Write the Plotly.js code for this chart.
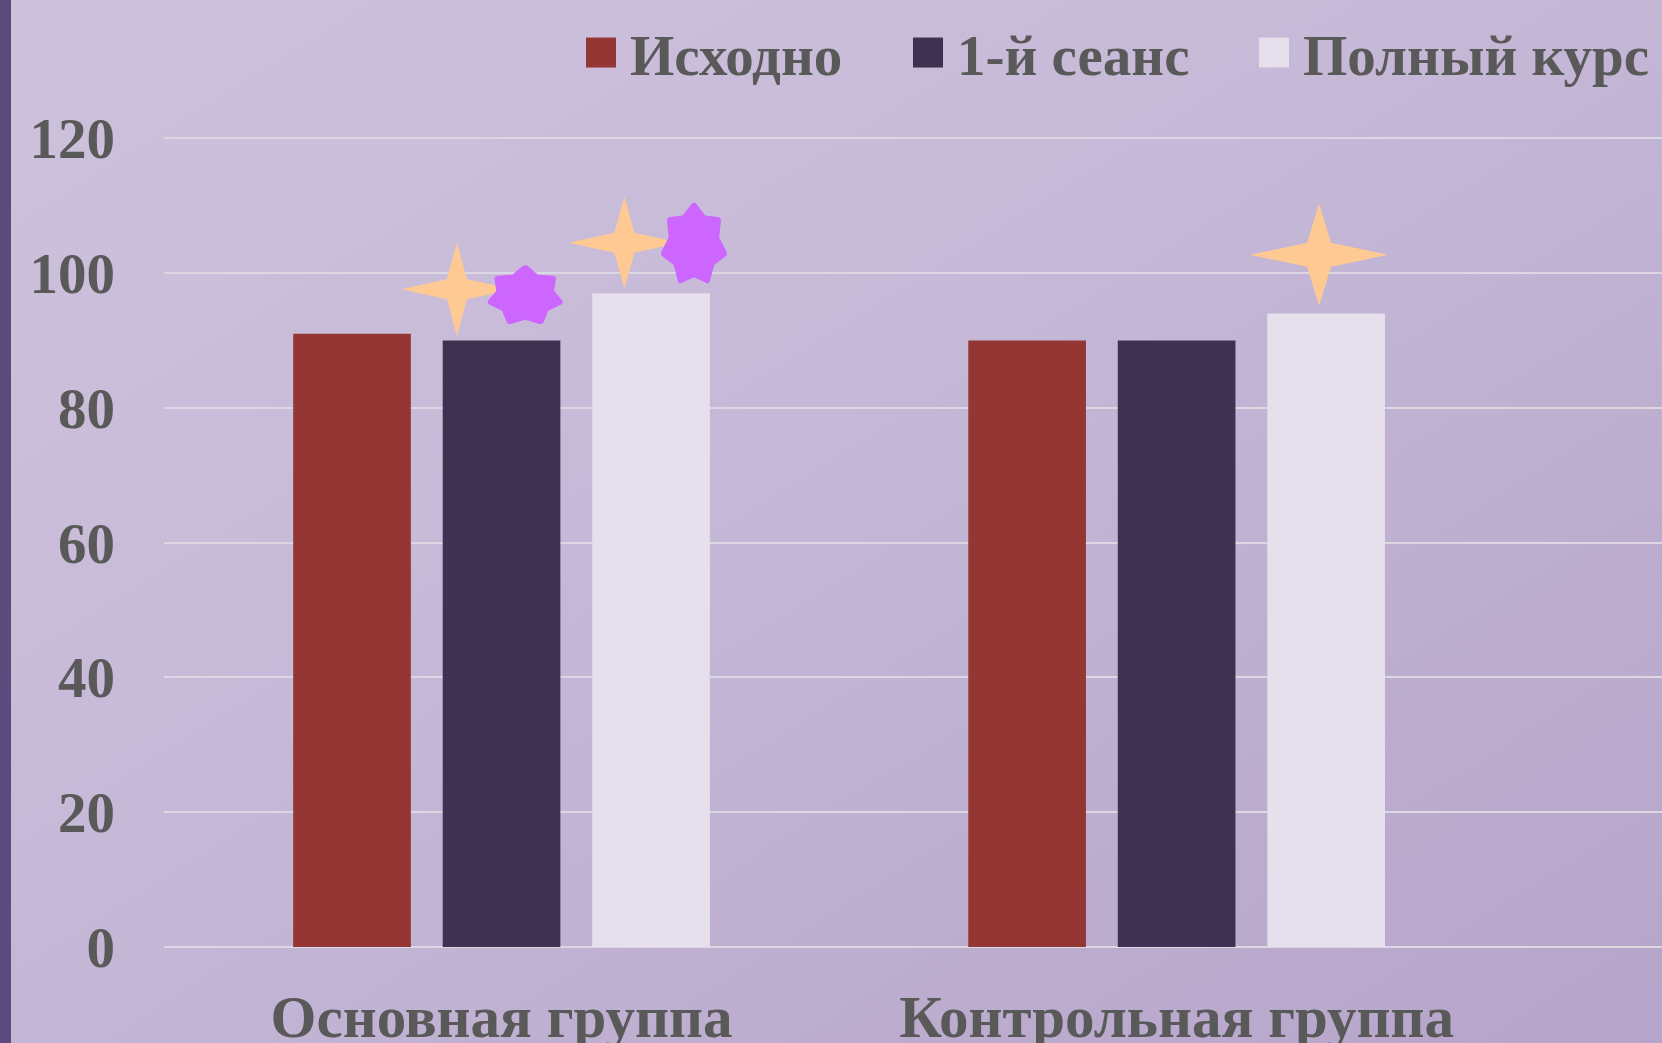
<!DOCTYPE html>
<html><head><meta charset="utf-8">
<script src="https://cdn.plot.ly/plotly-3.0.1.min.js"></script>
<style>
html,body{margin:0;padding:0;}
#wrap{position:relative;width:1662px;height:1043px;overflow:hidden;
  background:linear-gradient(to bottom right,#cdc2dc 0%,#c7bad8 40%,#bcadcf 75%,#b6a5ca 100%);}
#edge{position:absolute;left:0;top:0;width:11px;height:1043px;background:#5c4a7d;z-index:2;}
#chart{position:absolute;left:0;top:0;width:1662px;height:1043px;}
</style></head><body>
<div id="wrap"><div id="chart"></div><div id="edge"></div></div>
<script>
// ---- data ----
const categories = ['Основная группа', 'Контрольная группа'];
const seriesNames = ['Исходно', '1-й сеанс', 'Полный курс'];
const baselineValues = [91, 90];
const session1Values = [90, 90];
const fullCourseValues = [97, 94];
const yTickValues = [0, 20, 40, 60, 80, 100, 120];
// significance markers: position on the category axis and value
const sparkX = [-0.066, 0.182, 1.211];
const sparkY = [97.6, 104.5, 102.7];
const starX = [0.035, 0.285];
const starY = [96.6, 104.2];

// ---- styles ----
const barColors = ['#943634', '#3f3151', '#e5e0ec'];
const sparkColor = '#fec993';
const starColor = '#cc66ff';
const sparkSizes = [[56, 47, 10], [56, 46, 10], [69, 51, 12]]; // half-width, half-height, waist (px)
const starSizes = [[40, 32], [35, 44]]; // radius x, radius y (px)
const textColor = '#595959';
const fontFam = '"Liberation Serif", "Times New Roman", serif';

function sparkPath(a, b, w) {
  return `M${-a},0 L${-w},${w} L0,${b} L${w},${w} L${a},0 L${w},${-w} L0,${-b} L${-w},${-w} Z`;
}
function starPath(rx, ry) {
  const n = 7, inner = 0.74, rnd = 0.22, pts = [];
  for (let i = 0; i < 2 * n; i++) {
    const ang = Math.PI / 2 - i * Math.PI / n;
    const r = i % 2 === 0 ? 1 : inner;
    pts.push([r * Math.cos(ang), r * Math.sin(ang)]);
  }
  const f = p => (p[0] * rx).toFixed(2) + ',' + (p[1] * ry).toFixed(2);
  let d = '';
  for (let i = 0; i < 2 * n; i++) {
    const p = pts[i];
    if (i % 2 === 0) {
      const pr = pts[(i - 1 + 2 * n) % (2 * n)], nx = pts[(i + 1) % (2 * n)];
      const a = [p[0] + (pr[0] - p[0]) * rnd, p[1] + (pr[1] - p[1]) * rnd];
      const b = [p[0] + (nx[0] - p[0]) * rnd, p[1] + (nx[1] - p[1]) * rnd];
      d += (i === 0 ? 'M' : 'L') + f(a) + ' Q' + f(p) + ' ' + f(b) + ' ';
    } else {
      d += 'L' + f(p) + ' ';
    }
  }
  return d + 'Z';
}

const seriesValues = [baselineValues, session1Values, fullCourseValues];
const legendIds = ['legend', 'legend2', 'legend3'];
const traces = seriesNames.map((name, i) => ({
  type: 'bar', name: name, x: categories, y: seriesValues[i],
  marker: {color: barColors[i], line: {width: 0}},
  legend: legendIds[i], hoverinfo: 'skip'
}));

const shapes = [];
sparkX.forEach((x, i) => shapes.push({
  type: 'path', xref: 'x', yref: 'y', xsizemode: 'pixel', ysizemode: 'pixel',
  xanchor: x, yanchor: sparkY[i],
  path: sparkPath(sparkSizes[i][0], sparkSizes[i][1], sparkSizes[i][2]),
  fillcolor: sparkColor, line: {width: 0}, layer: 'above'
}));
starX.forEach((x, i) => shapes.push({
  type: 'path', xref: 'x', yref: 'y', xsizemode: 'pixel', ysizemode: 'pixel',
  xanchor: x, yanchor: starY[i],
  path: starPath(starSizes[i][0], starSizes[i][1]),
  fillcolor: starColor, line: {width: 0}, layer: 'above'
}));

const legFont = {family: fontFam, size: 57, color: textColor, weight: 'bold'};
const plotL = 164, plotW = 1498, plotBottom = 946.7, plotH = 846.7;
const px2x = px => (px - plotL) / plotW;
const py2y = py => (plotBottom - py) / plotH;
function legendAt(px) {
  return {orientation: 'h', x: px2x(px), xanchor: 'left', y: py2y(53), yanchor: 'middle',
    bgcolor: 'rgba(0,0,0,0)', borderwidth: 0, font: legFont, itemwidth: 48};
}

const layout = {
  width: 1662, height: 1043,
  margin: {l: 164, r: 0, t: 100, b: 96.3, pad: 0},
  paper_bgcolor: 'rgba(0,0,0,0)', plot_bgcolor: 'rgba(0,0,0,0)',
  barmode: 'group', bargap: 0.3356, bargroupgap: 0.213,
  showlegend: true,
  legend: legendAt(572), legend2: legendAt(899), legend3: legendAt(1245),
  xaxis: {
    type: 'category', range: [-0.5, 1.719], ticks: '', showline: false, showgrid: false,
    zeroline: false, automargin: false, ticklabelstandoff: 30,
    tickfont: {family: fontFam, size: 59, color: textColor, weight: 'bold'}
  },
  yaxis: {
    range: [0, 125.68], tickvals: yTickValues, ticktext: yTickValues.map(String),
    ticks: '', showline: false, showgrid: true, gridcolor: '#dcd7e3', gridwidth: 1.5,
    zeroline: true, zerolinecolor: '#dcd7e3', zerolinewidth: 1.5,
    automargin: false, ticklabelstandoff: 48,
    tickfont: {family: fontFam, size: 57, color: textColor, weight: 'bold'}
  },
  shapes: shapes
};

function bigLegendSymbols(gd) {
  gd.querySelectorAll('.legendpoints path').forEach(p => {
    p.setAttribute('d', 'M15,15H-15V-15H15Z');
  });
}
Plotly.newPlot('chart', traces, layout, {displayModeBar: false}).then(gd => {
  bigLegendSymbols(gd);
  gd.on('plotly_afterplot', () => bigLegendSymbols(gd));
});
</script>
</body></html>
